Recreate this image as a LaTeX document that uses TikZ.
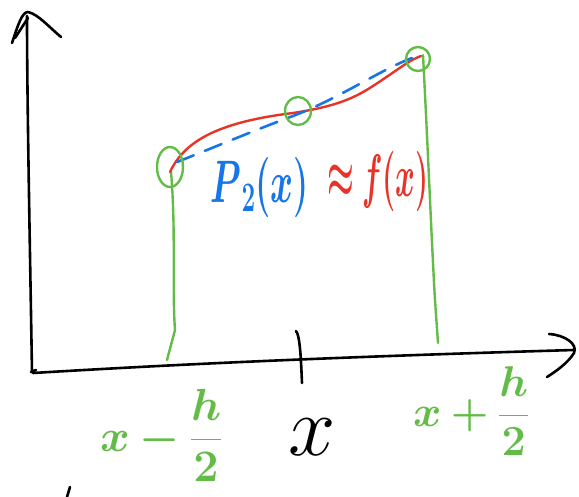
\RequirePackage{fix-cm}
\documentclass[tikz,border=0pt]{standalone}
\usepackage{amsmath}
\usepackage{graphicx}
\definecolor{penGreen}{RGB}{100,188,72}
\definecolor{penRed}{RGB}{232,52,40}
\definecolor{penBlue}{RGB}{22,118,232}
\newcommand{\bs}[1]{\boldsymbol{#1}}
\tikzset{
  ink/.style={draw=black, line width=2.6pt, line cap=round, line join=round},
  gpen/.style={draw=penGreen, line width=2.4pt, line cap=round, line join=round},
  rpen/.style={draw=penRed, line width=2.4pt, line cap=round},
  bpen/.style={draw=penBlue, line width=2.6pt, line cap=round, dash pattern=on 18pt off 12pt},
  lbl/.style={inner sep=0pt, outer sep=0pt}
}
\begin{document}
\begin{tikzpicture}[x=1pt,y=-1pt]
\useasboundingbox (0,0) rectangle (579,497);
% y axis
\draw[ink] (32,372) .. controls (30,250) and (27,100) .. (27,16);
\draw[ink] (12,43) .. controls (18,25) and (22,12) .. (28,12) .. controls (38,14) and (50,28) .. (61,37);
\draw[ink] (15,38) -- (28,18);
\draw[ink] (31,372) -- (36,370);
% x axis
\draw[ink] (33,373) .. controls (150,366) and (300,358) .. (574,350);
\draw[ink] (549,334) .. controls (565,335) and (578,344) .. (574,353) .. controls (568,363) and (555,372) .. (547,377);
% tick
\draw[ink] (296,331) .. controls (300,335) and (301,360) .. (302,383);
% stray mark
\draw[ink] (70,487) -- (67,497);
% green verticals
\draw[gpen] (171,172) .. controls (176,230) and (172,290) .. (175,330) -- (167,360);
\draw[gpen] (423,55) .. controls (428,150) and (432,250) .. (435,300) -- (438,343);
% red curve f
\draw[rpen] (170,172) .. controls (185,140) and (220,122) .. (293,113) .. controls (345,105) and (360,95) .. (385,78) .. controls (400,68) and (410,60) .. (421,56);
% blue dashed P2
\draw[bpen] (177,162) .. controls (220,145) and (255,130) .. (293,116) .. controls (340,98) and (380,70) .. (412,58);
% green circles
\draw[gpen] (170,167) ellipse (13 and 20);
\draw[gpen] (298,111) ellipse (13 and 14);
\draw[gpen] (418,59) ellipse (12 and 12);
% labels
\node[lbl, text=penBlue, anchor=center] (p2) at (260,188) {\scalebox{0.58}[1]{\fontsize{60}{60}\selectfont $\bs{P}_{\bs{2}}\bs{(}\bs{x}\bs{)}$}};
\node[lbl, text=penRed, anchor=center] (fx) at (378,182) {\scalebox{0.5}[1]{\fontsize{60}{60}\selectfont $\bs{\approx}\bs{f}\bs{(}\bs{x}\bs{)}$}};
\node[lbl, text=penGreen, anchor=base west] (xl) at (100,451) {\fontsize{45}{45}\selectfont $\bs{x}\bs{-}\dfrac{\bs{h}}{\bs{2}}$};
\node[lbl, text=black, anchor=base west] (xm) at (288,455) {\fontsize{85}{85}\selectfont $x$};
\node[lbl, text=penGreen, anchor=base west] (xr) at (413,426) {\fontsize{43}{43}\selectfont $\bs{x}\bs{+}\dfrac{\bs{h}}{\bs{2}}$};
\end{tikzpicture}
\end{document}
